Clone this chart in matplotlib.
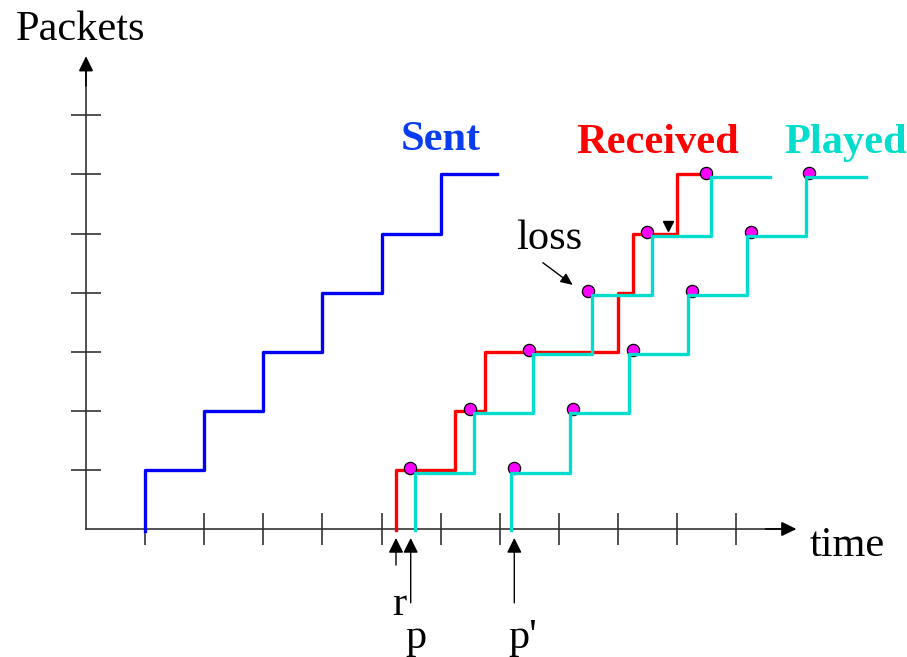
import numpy as np
import matplotlib
matplotlib.use("Agg")
import matplotlib.pyplot as plt

# ─────────────────────────────────────────
# DATA  (time in tick units, packets in tick units)
# ─────────────────────────────────────────
levels = [1, 2, 3, 4, 5, 6]

sent_times = [1.0, 2.0, 3.0, 4.0, 5.0, 6.0]
sent_end = 6.95

recv_times = [5.25, 6.24, 6.75, 9.0, 9.25, 10.0]
recv_end = 10.45

play_times = [5.56, 6.57, 7.57, 8.57, 9.57, 10.57]
play_end = 11.57

play2_times = [7.19, 8.19, 9.19, 10.19, 11.19, 12.19]
play2_end = 13.19

dots_play_t = [5.49, 6.50, 7.50, 8.50, 9.49, 10.49]
dots_play2_t = [7.24, 8.24, 9.25, 10.25, 11.25, 12.24]

x_ticks = list(range(1, 12))
y_ticks = list(range(1, 8))

# marker arrows under the time axis: (label, time, arrow tail y)
time_marks = [("r", 5.245, -0.61), ("p", 5.494, -1.25), ("p'", 7.247, -1.25)]

# ─────────────────────────────────────────
# STYLE
# ─────────────────────────────────────────
PX = 59.1  # pixels per unit
BLUE = "#0000F5"
RED = "#FF0000"
CYAN = "#00DDCC"
AXIS = "#333333"
FONT = "Liberation Serif"
FS = 30.5
CYAN_DROP = 0.045


def step_xy(times, end, start_level=0.0, drop=0.0):
    xs = [times[0]] + list(times) + [end]
    ys = [start_level] + [lv - drop for lv in levels] + [levels[-1] - drop]
    return xs, ys


fig = plt.figure(figsize=(9.07, 6.57), dpi=100)
ax = fig.add_axes([0, 0, 1, 1])
ax.set_xlim(-86 / PX, 821 / PX)
ax.set_ylim(-128 / PX, 529 / PX)
ax.axis("off")

# axes with arrows
arrow_kw = dict(arrowstyle="-|>,head_length=0.45,head_width=0.22",
                color="black", lw=1.2, mutation_scale=20, shrinkA=0, shrinkB=0)
ax.plot([0, 11.9], [0, 0], color=AXIS, lw=1.2, zorder=1)
ax.plot([0, 0], [0, 7.9], color=AXIS, lw=1.2, zorder=1)
ax.annotate("", xy=(12.02, 0), xytext=(11.5, 0), arrowprops=arrow_kw)
ax.annotate("", xy=(0, 8.0), xytext=(0, 7.5), arrowprops=arrow_kw)

# ticks
ax.vlines(x_ticks, -0.27, 0.27, color=AXIS, lw=1.2, zorder=1)
ax.hlines(y_ticks, -0.254, 0.254, color=AXIS, lw=1.2, zorder=1)

# step curves
lw = 2.4
xs, ys = step_xy(sent_times, sent_end, start_level=-0.03)
ax.plot(xs, ys, drawstyle="steps-post", color=BLUE, lw=lw, zorder=2)
xs, ys = step_xy(recv_times, recv_end, start_level=-0.02)
ax.plot(xs, ys, drawstyle="steps-post", color=RED, lw=lw, zorder=2)
xs, ys = step_xy(play_times, play_end, start_level=-0.02, drop=CYAN_DROP)
ax.plot(xs, ys, drawstyle="steps-post", color=CYAN, lw=lw, zorder=4)
xs, ys = step_xy(play2_times, play2_end, start_level=-0.02, drop=CYAN_DROP)
ax.plot(xs, ys, drawstyle="steps-post", color=CYAN, lw=lw, zorder=4)

# playout dots (between red and cyan)
dot_kw = dict(marker="o", ls="none", ms=8.8, mfc="#FF00FF", mec="black", mew=0.9, zorder=3)
ax.plot(dots_play_t, [lv + 0.03 for lv in levels], **dot_kw)
ax.plot(dots_play2_t, [lv + 0.03 for lv in levels], **dot_kw)

# small arrow head near red curve
ax.plot([9.85], [5.13], marker="v", ms=7, color="black", ls="none", zorder=5)

# loss annotation
ax.annotate("", xy=(8.235, 4.13), xytext=(7.73, 4.506),
            arrowprops=dict(arrowstyle="-|>,head_length=0.45,head_width=0.2",
                            color="black", lw=1.0, mutation_scale=16,
                            shrinkA=0, shrinkB=0))
ax.text(7.28, 4.73, "loss", family=FONT, fontsize=FS, ha="left", va="baseline")

# time markers below axis
for label, t, y0 in time_marks:
    ax.annotate("", xy=(t, -0.152), xytext=(t, y0),
                arrowprops=dict(arrowstyle="-|>,head_length=0.5,head_width=0.25",
                                color="black", lw=1.0, mutation_scale=18,
                                shrinkA=0, shrinkB=0))
ax.text(5.305, -1.455, "r", family=FONT, fontsize=FS, ha="center", va="baseline")
ax.text(5.59, -2.01, "p", family=FONT, fontsize=FS, ha="center", va="baseline")
ax.text(7.14, -2.01, "p'", family=FONT, fontsize=FS, ha="left", va="baseline")

# axis labels
ax.text(-1.196, 8.27, "Packets", family=FONT, fontsize=FS, ha="left", va="baseline")
ax.text(12.25, -0.457, "time", family=FONT, fontsize=FS, ha="left", va="baseline")

# series labels
ax.text(5.32, 6.41, "Sent", family=FONT, fontsize=FS, fontweight="bold",
        color="#0A3CF0", ha="left", va="baseline")
ax.text(8.29, 6.36, "Received", family=FONT, fontsize=FS, fontweight="bold",
        color=RED, ha="left", va="baseline")
ax.text(11.81, 6.36, "Played", family=FONT, fontsize=FS, fontweight="bold",
        color=CYAN, ha="left", va="baseline")

fig.savefig("out.png", dpi=100)
